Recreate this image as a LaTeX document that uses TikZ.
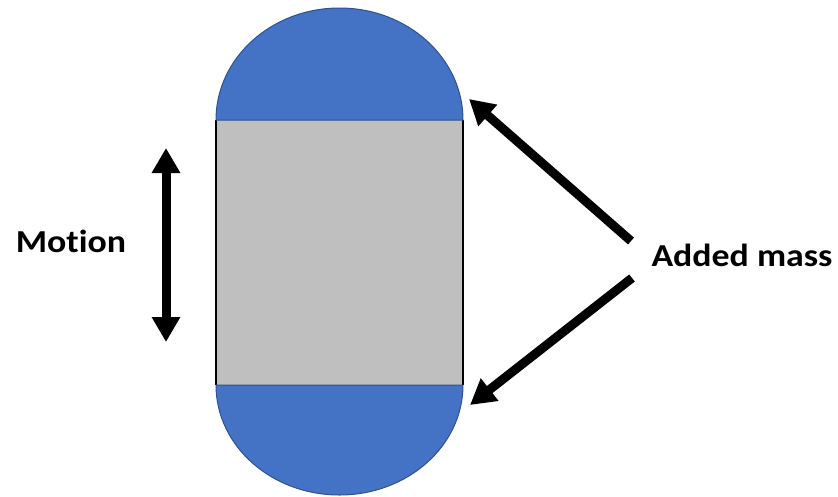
\documentclass[tikz,border=0pt]{standalone}
\usepackage{fontspec}
\setmainfont{Carlito}[Ligatures=NoCommon, FakeStretch=1.12]
\usetikzlibrary{arrows.meta}
\definecolor{massblue}{HTML}{4472C4}
\definecolor{massedge}{HTML}{2F528F}
\definecolor{bodygray}{HTML}{BFBFBF}
\tikzset{
  massfill/.style={fill=massblue, draw=massedge, line width=1pt},
  bigarrow/.style={line width=9pt, -{Triangle[length=25pt,width=27pt]}},
  label/.style={font=\bfseries\fontsize{32}{38}\selectfont, inner sep=0pt, anchor=base}
}
\begin{document}
\begin{tikzpicture}[x=1pt,y=-1pt]
\useasboundingbox (0,0) rectangle (838,496);
% body
\fill[bodygray] (216,120) rectangle (463,385);
\draw[line width=2pt] (216,120) -- (216,385);
\draw[line width=2pt] (463,120) -- (463,385);
% added mass caps
\draw[massfill] (216,120) arc[start angle=180, end angle=360, x radius=123.5, y radius=112] -- cycle;
\draw[massfill] (216,385) arc[start angle=180, end angle=0, x radius=123.5, y radius=110] -- cycle;
% motion arrow
\coordinate (mtop) at (166,148);
\coordinate (mbot) at (166,342);
\draw[line width=9pt, {Triangle[length=25pt,width=27pt]}-{Triangle[length=25pt,width=27pt]}] (mtop) -- (mbot);
% labels
\node[label] (motion) at (71,252) {Motion};
\node[label] (added) at (742,266) {Added mass};
% added mass arrows
\coordinate (a1s) at (631,241);
\coordinate (a1e) at (469,99);
\coordinate (a2s) at (632,278);
\coordinate (a2e) at (470,405);
\draw[bigarrow] (a1s) -- (a1e);
\draw[bigarrow] (a2s) -- (a2e);
\end{tikzpicture}
\end{document}
